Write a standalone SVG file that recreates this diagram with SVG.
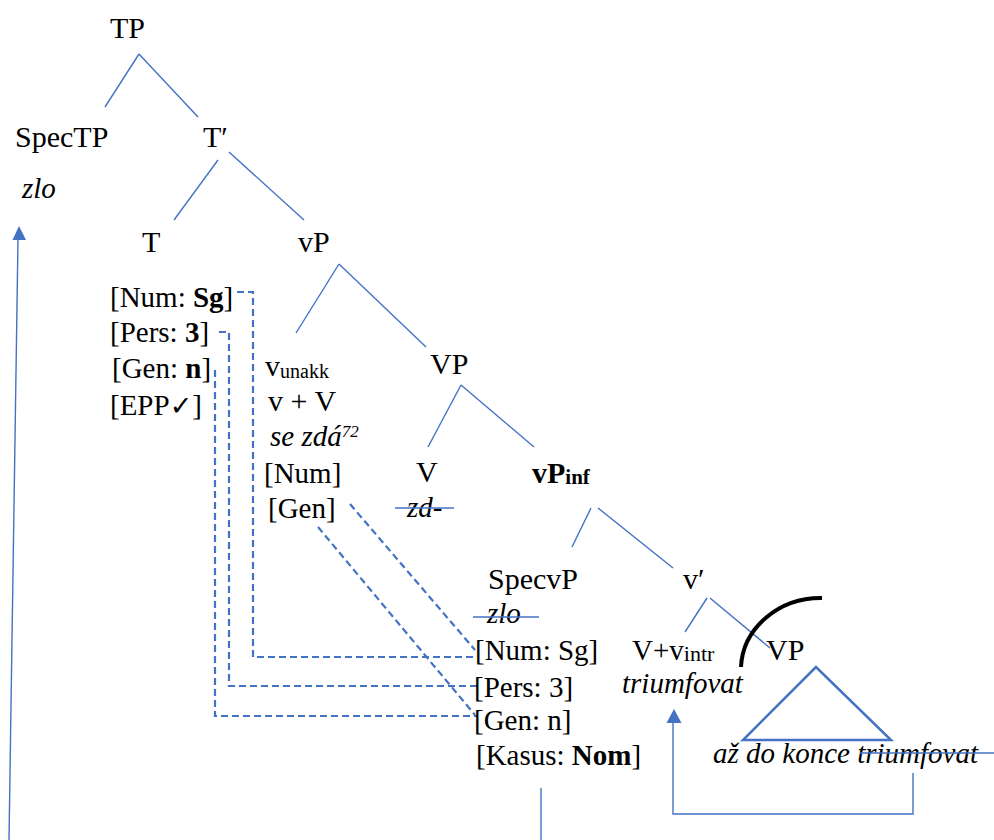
<svg xmlns="http://www.w3.org/2000/svg" width="994" height="840" viewBox="0 0 994 840">
<style>
text{font-family:"Liberation Serif","Times New Roman",serif;fill:#000}
.lbl{font-size:30px}
.ft{font-size:29px}
.it{font-style:italic}
.b{font-weight:bold}
.tl{stroke:#4472C4;stroke-width:1.4;fill:none}
.ds{stroke:#4472C4;stroke-width:2.2;fill:none;stroke-dasharray:7,4}
.st{stroke:#4472C4;stroke-width:1.5}
.ar{fill:#4472C4}
</style>
<rect width="994" height="840" fill="#fff"/>
<g id="edges">
<line class="tl" x1="139" y1="54" x2="105" y2="107"/>
<line class="tl" x1="139" y1="54" x2="198" y2="117"/>
<line class="tl" x1="218" y1="160" x2="174" y2="220"/>
<line class="tl" x1="229" y1="152" x2="304" y2="220"/>
<line class="tl" x1="339" y1="264" x2="296" y2="333"/>
<line class="tl" x1="339" y1="264" x2="426" y2="347"/>
<line class="tl" x1="461" y1="385" x2="428" y2="447"/>
<line class="tl" x1="461" y1="385" x2="534" y2="447"/>
<line class="tl" x1="591" y1="508" x2="572" y2="547"/>
<line class="tl" x1="598" y1="508" x2="673" y2="568"/>
<line class="tl" x1="707" y1="598" x2="685" y2="632"/>
<line class="tl" x1="710" y1="598" x2="770" y2="648"/>
<path class="ds" d="M237,292 H253 V657 H477"/>
<path class="ds" d="M219,332 H229 V686 H477"/>
<path class="ds" d="M215,370 V716 H477"/>
<line class="ds" x1="350" y1="504" x2="475" y2="650"/>
<line class="ds" x1="318" y1="527" x2="475" y2="715"/>
<line class="tl" x1="18" y1="239" x2="9" y2="840"/>
<polygon class="ar" points="19,226 12.5,240 26,240"/>
<line class="tl" x1="541" y1="788" x2="541" y2="840"/>
<path class="tl" d="M913,773 V814 H673 V722"/>
<polygon class="ar" points="674,709 666.5,723 681.5,723"/>
</g>
<g id="n-TP"><text class="lbl" x="110" y="38">TP</text></g>
<g id="n-SpecTP"><text class="lbl" x="15" y="147">SpecTP</text><text class="ft it" x="22" y="198">zlo</text></g>
<g id="n-Tbar"><text class="lbl" x="203" y="147">T′</text></g>
<g id="n-T"><text class="lbl" x="142" y="252">T</text>
<text class="ft" x="110" y="307">[Num: <tspan class="b">Sg</tspan>]</text>
<text class="ft" x="110" y="342">[Pers: <tspan class="b">3</tspan>]</text>
<text class="ft" x="112" y="378">[Gen: <tspan class="b">n</tspan>]</text>
<text class="ft" x="110" y="415">[EPP<tspan style="font-family:'DejaVu Sans',sans-serif;font-size:27px">✓</tspan>]</text>
</g>
<g id="n-vP"><text class="lbl" x="298" y="252">vP</text></g>
<g id="n-vunakk">
<text class="lbl" x="265" y="376">v<tspan font-size="20" dy="2">unakk</tspan></text>
<text class="lbl" x="268" y="411">v + V</text>
<text class="ft it" x="270" y="446">se zdá<tspan font-size="17" dy="-9">72</tspan></text>
<text class="ft" x="264" y="483">[Num]</text>
<text class="ft" x="268" y="518">[Gen]</text>
</g>
<g id="n-VP"><text class="lbl" x="430" y="374">VP</text></g>
<g id="n-V"><text class="lbl" x="416" y="482">V</text><text class="ft it" x="407" y="517">zd-</text><line class="st" x1="395" y1="508" x2="454" y2="508"/></g>
<g id="n-vPinf"><text class="lbl b" x="532" y="483">vP<tspan font-size="21" dy="1">inf</tspan></text></g>
<g id="n-SpecvP">
<text class="lbl" x="488" y="589">SpecvP</text>
<text class="ft it" x="487" y="623">zlo</text><line class="st" x1="473" y1="617" x2="539" y2="617"/>
<text class="ft" x="475" y="660">[Num: Sg]</text>
<text class="ft" x="474" y="697">[Pers: 3]</text>
<text class="ft" x="474" y="730">[Gen: n]</text>
<text class="ft" x="476" y="765">[Kasus: <tspan class="b">Nom</tspan>]</text>
</g>
<g id="n-vbar"><text class="lbl" x="683" y="589">v′</text></g>
<g id="n-Vv"><text class="ft" x="632" y="660">V+v<tspan font-size="22" dy="1">intr</tspan></text><text class="ft it" x="622" y="693">triumfovat</text></g>
<g id="n-VP2">
<text class="lbl" x="766" y="660">VP</text>
<path d="M741,667 A80,72 0 0 1 822,598" fill="none" stroke="#000" stroke-width="4"/>
<polygon points="816,667 743,740 891,740" fill="none" stroke="#4472C4" stroke-width="2.5"/>
<text class="ft it" x="713" y="763">až do konce triumfovat</text>
<line class="st" x1="860" y1="753" x2="994" y2="753"/>
</g>
</svg>
